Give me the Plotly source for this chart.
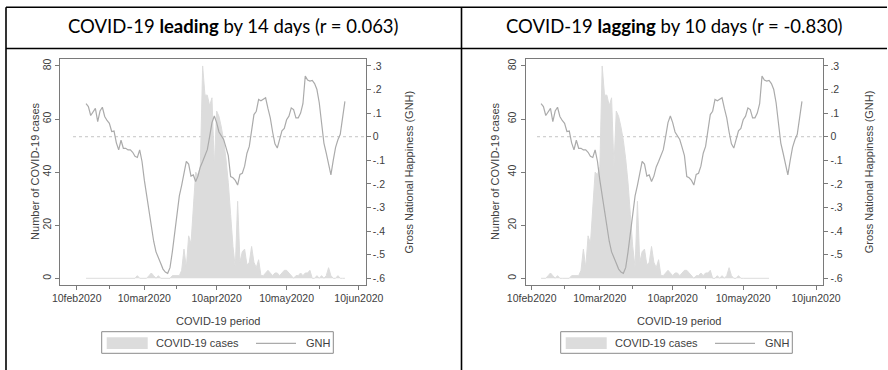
import pandas as pd
import plotly.graph_objects as go

W, H = 888, 370

# ---------------- data ----------------
cases_start = "2020-01-31"
cases = [
    0, 0, 0, 0, 0, 0, 0, 0, 0, 0, 0, 0, 0, 0, 0, 0, 0, 0, 0, 0, 0,   # Jan31-Feb20
    0, 1, 0, 0, 0, 0, 1, 2, 1, 0,
    1, 0, 0, 0, 0, 0, 1, 1, 1, 1,
    3, 11, 4, 16, 13, 28, 40, 39, 42, 80,
    69, 69, 65, 68, 42, 63, 61, 57, 52, 45,
    36, 24, 12, 4, 29, 6, 10, 11, 5, 6,
    12, 6, 4, 7, 1, 1, 2, 3, 2, 1,
    2, 2, 1, 2, 3, 3, 2, 1, 0, 1,
    1, 2, 1, 2, 2, 3, 0, 0, 1, 0,
    1, 0, 1, 4, 1, 0, 0, 1, 0, 0,
    0, 0, 0, 0, 0, 0, 0, 0, 0, 0, 0,
]

gnh_start = "2020-02-14"
gnh = [
    0.14, 0.128, 0.09, 0.107, 0.12, 0.064, 0.109, 0.125, 0.086, 0.069,
    0.057, 0.022, 0.024, -0.026, -0.056, -0.015, -0.049, -0.049, -0.056, -0.056,
    -0.066, -0.083, -0.088, -0.056, -0.105, -0.184, -0.251, -0.313, -0.386, -0.443,
    -0.488, -0.516, -0.536, -0.561, -0.574, -0.579, -0.555, -0.488, -0.409, -0.319,
    -0.251, -0.206, -0.155, -0.105, -0.116, -0.167, -0.162, -0.19, -0.167, -0.128,
    -0.105, -0.08, -0.055, 0.0, 0.06, 0.088, 0.06, 0.02, 0.005, -0.012,
    -0.045, -0.08, -0.169, -0.174, -0.185, -0.205, -0.16, -0.155, -0.125, -0.07,
    -0.041, 0.02, 0.094, 0.108, 0.158, 0.152, 0.16, 0.165, 0.12, 0.08,
    0.02, -0.03, -0.048, -0.015, 0.025, 0.035, 0.072, 0.087, 0.122, 0.115,
    0.08, 0.08, 0.1, 0.14, 0.257, 0.24, 0.236, 0.239, 0.225, 0.2,
    0.144, 0.058, -0.027, -0.07, -0.115, -0.162, -0.1, -0.045, -0.013, 0.01,
    0.08, 0.15,
]

window_start, window_end = "2020-02-14", "2020-06-04"
case_shift_days = [14, -10]
panel_titles = [
    "COVID-19 <b>leading</b> by 14 days (r = 0.063)",
    "COVID-19 <b>lagging</b> by 10 days (r = -0.830)",
]
x_tick_vals = ["2020-02-10", "2020-03-10", "2020-04-10", "2020-05-10", "2020-06-10"]
x_tick_text = ["10feb2020", "10mar2020", "10apr2020", "10may2020", "10jun2020"]
x_minor_vals = ["2020-02-24", "2020-03-24", "2020-04-24", "2020-05-24"]
y_left_ticks = [0, 20, 40, 60, 80]
y_right_ticks = [0.3, 0.2, 0.1, 0, -0.1, -0.2, -0.3, -0.4, -0.5, -0.6]
y_right_text = [".3", ".2", ".1", "0", "-.1", "-.2", "-.3", "-.4", "-.5", "-.6"]
legend_labels = ["COVID-19 cases", "GNH"]
x_title = "COVID-19 period"
y_left_title = "Number of COVID-19 cases"
y_right_title = "Gross National Happiness (GNH)"

# ---------------- styling / geometry ----------------
FONT = "Liberation Sans, Arial, sans-serif"
TXT = "#404040"
AREA = "#dcdcdc"
LINE = "#ababab"
FRAME = "#7a7a7a"

FT, FB = 59.3, 284.5            # plot frame top / bottom (px)
L_RANGE = [-2.34, 82.5]


def to_g(v):
    return -0.6 + v * 0.9 / 80.0


R_RANGE = [to_g(L_RANGE[0]), to_g(L_RANGE[1])]

panels = [
    dict(fl=60.0, fr=365.7, xr=["2020-02-02 20:00", "2020-06-12 22:00"],
         ylab=35.0, yrlab=408.5, xlab=218.0, leg=101.7, hdr=233.5, zl=73.0),
    dict(fl=525.7, fr=823.3, xr=["2020-02-07 11:00", "2020-06-13 02:00"],
         ylab=495.0, yrlab=869.3, xlab=679.0, leg=560.7, hdr=674.5, zl=537.0),
]


def px(x):
    return x / W


def py(y):
    return 1 - y / H


cases_dates = pd.date_range(cases_start, periods=len(cases), freq="D")
gnh_dates = pd.date_range(gnh_start, periods=len(gnh), freq="D")
ws, we = pd.Timestamp(window_start), pd.Timestamp(window_end)

fig = go.Figure()
shapes = []
annotations = []

for i, (p, shift) in enumerate(zip(panels, case_shift_days)):
    xa = "x" if i == 0 else "x2"
    yl = "y" if i == 0 else "y3"
    yr = "y2" if i == 0 else "y4"
    sd = cases_dates + pd.Timedelta(days=shift)
    s = pd.Series(cases, index=sd)
    s = s[(s.index >= ws) & (s.index <= we)]
    fig.add_trace(go.Scatter(x=s.index, y=s.values, mode="lines", fill="tozeroy",
                             fillcolor=AREA, line=dict(color=AREA, width=1),
                             name=legend_labels[0], xaxis=xa, yaxis=yl,
                             hoverinfo="skip"))
    fig.add_trace(go.Scatter(x=gnh_dates, y=gnh, mode="lines",
                             line=dict(color=LINE, width=1.2),
                             name=legend_labels[1], xaxis=xa, yaxis=yr,
                             hoverinfo="skip"))

    dom_x = [px(p["fl"]), px(p["fr"])]
    dom_y = [py(FB), py(FT)]
    xkey = "xaxis" if i == 0 else "xaxis2"
    ylkey = "yaxis" if i == 0 else "yaxis3"
    yrkey = "yaxis2" if i == 0 else "yaxis4"
    fig.update_layout(**{
        xkey: dict(domain=dom_x, anchor=yl, type="date", range=p["xr"],
                   tickmode="array", tickvals=x_tick_vals, ticktext=x_tick_text,
                   ticks="outside", ticklen=4, tickcolor=FRAME, tickwidth=1,
                   showline=True, linecolor=FRAME, linewidth=1.2, mirror=True,
                   showgrid=False, zeroline=False, automargin=False,
                   tickfont=dict(family=FONT, size=10.5, color=TXT),
                   minor=dict(tickmode="array", tickvals=x_minor_vals,
                              ticks="outside", ticklen=3, tickcolor=FRAME,
                              showgrid=False)),
        ylkey: dict(domain=dom_y, anchor=xa, range=L_RANGE,
                    tickmode="array", tickvals=y_left_ticks,
                    ticks="outside", ticklen=4, tickcolor=FRAME,
                    showline=True, linecolor=FRAME, linewidth=1.2, mirror=True,
                    showgrid=False, zeroline=False, tickangle=-90, automargin=False,
                    tickfont=dict(family=FONT, size=10.5, color=TXT)),
        yrkey: dict(overlaying=yl, anchor=xa, side="right", range=R_RANGE,
                    tickmode="array", tickvals=y_right_ticks, ticktext=y_right_text,
                    ticks="outside", ticklen=4, tickcolor=FRAME, automargin=False,
                    showline=False, showgrid=False, zeroline=False,
                    tickfont=dict(family=FONT, size=10.5, color=TXT)),
    })

    # dotted zero line for GNH
    shapes.append(dict(type="line", xref="paper", yref=yr, x0=px(p["zl"]),
                       x1=px(p["fr"] - 1.5), y0=0, y1=0, layer="below",
                       line=dict(color="#c4c4c4", width=1, dash="dot")))

    # axis titles
    annotations.append(dict(text=y_left_title, x=px(p["ylab"]), y=py((FT + FB) / 2),
                            xref="paper", yref="paper", textangle=-90, showarrow=False,
                            xanchor="center", yanchor="middle",
                            font=dict(family=FONT, size=11, color=TXT)))
    annotations.append(dict(text=y_right_title, x=px(p["yrlab"]), y=py((FT + FB) / 2),
                            xref="paper", yref="paper", textangle=-90, showarrow=False,
                            xanchor="center", yanchor="middle",
                            font=dict(family=FONT, size=11, color=TXT)))
    annotations.append(dict(text=x_title, x=px(p["xlab"]), y=py(320.7),
                            xref="paper", yref="paper", showarrow=False,
                            xanchor="center", yanchor="middle",
                            font=dict(family=FONT, size=11, color=TXT)))

    # legend (drawn)
    lx = p["leg"]
    shapes.append(dict(type="rect", xref="paper", yref="paper",
                       x0=px(lx), x1=px(lx + 231.6), y0=py(331.7), y1=py(353.3),
                       line=dict(color="#8a8a8a", width=1), fillcolor="white"))
    shapes.append(dict(type="rect", xref="paper", yref="paper",
                       x0=px(lx + 5), x1=px(lx + 46), y0=py(337.3), y1=py(349.0),
                       line=dict(width=0), fillcolor=AREA))
    shapes.append(dict(type="line", xref="paper", yref="paper",
                       x0=px(lx + 154.3), x1=px(lx + 194.3), y0=py(343.3), y1=py(343.3),
                       line=dict(color=LINE, width=1.2)))
    annotations.append(dict(text=legend_labels[0], x=px(lx + 52.3), y=py(343.3),
                            xref="paper", yref="paper", showarrow=False,
                            xanchor="left", yanchor="middle",
                            font=dict(family=FONT, size=11, color=TXT)))
    annotations.append(dict(text=legend_labels[1], x=px(lx + 202.3), y=py(343.3),
                            xref="paper", yref="paper", showarrow=False,
                            xanchor="left", yanchor="middle",
                            font=dict(family=FONT, size=11, color=TXT)))

    # header text
    annotations.append(dict(text=panel_titles[i], x=px(p["hdr"]), y=py(26),
                            xref="paper", yref="paper", showarrow=False,
                            xanchor="center", yanchor="middle",
                            font=dict(family="Lato, Open Sans, sans-serif", size=18.5,
                                      color="black")))

# table borders
BL = dict(color="black", width=1.6)
shapes += [
    dict(type="line", xref="paper", yref="paper", x0=px(6), x1=px(887), y0=py(7.3), y1=py(7.3), line=BL),
    dict(type="line", xref="paper", yref="paper", x0=px(6), x1=px(887), y0=py(48.5), y1=py(48.5), line=BL),
    dict(type="line", xref="paper", yref="paper", x0=px(6), x1=px(6), y0=py(7.3), y1=py(370), line=BL),
    dict(type="line", xref="paper", yref="paper", x0=px(461.5), x1=px(461.5), y0=py(7.3), y1=py(370), line=BL),
]

fig.update_layout(width=W, height=H,
                  margin=dict(l=0, r=0, t=0, b=0, pad=0, autoexpand=False),
                  plot_bgcolor="white", paper_bgcolor="white", showlegend=False,
                  shapes=shapes, annotations=annotations)

fig.write_html("out.html", config={"displayModeBar": False},
               post_script="document.body.style.margin='0px';")
